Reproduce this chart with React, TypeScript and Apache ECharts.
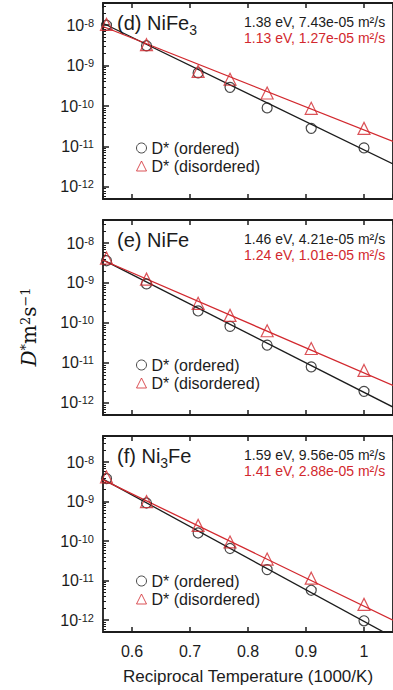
import React, { useEffect, useRef } from "react";
import * as echarts from "echarts";

// ---------- data ----------
const reciprocalT = [0.556, 0.625, 0.714, 0.769, 0.833, 0.909, 1.0];
const fitX = [0.55, 1.05];

const nife3Ordered = [1.0e-8, 3.1e-9, 6.6e-10, 2.9e-10, 9.0e-11, 2.8e-11, 9.2e-12];
const nife3Disordered = [1.05e-8, 3.3e-9, 7.2e-10, 4.6e-10, 2.1e-10, 8.8e-11, 2.8e-11];
const nife3OrderedFit = [1.12e-8, 3.7e-12];
const nife3DisorderedFit = [9.3e-9, 1.33e-11];

const nifeOrdered = [3.6e-9, 9.5e-10, 2.0e-10, 8.2e-11, 2.8e-11, 8.0e-12, 1.95e-12];
const nifeDisordered = [4.2e-9, 1.25e-9, 3.1e-10, 1.55e-10, 6.4e-11, 2.3e-11, 6.5e-12];
const nifeOrderedFit = [3.8e-9, 7.9e-13];
const nifeDisorderedFit = [3.7e-9, 2.75e-12];

const ni3feOrdered = [3.8e-9, 9.2e-10, 1.6e-10, 6.5e-11, 1.9e-11, 5.7e-12, 9.6e-13];
const ni3feDisordered = [4.2e-9, 1.0e-9, 2.5e-10, 9.5e-11, 3.5e-11, 1.15e-11, 2.5e-12];
const ni3feOrderedFit = [3.7e-9, 3.7e-13];
const ni3feDisorderedFit = [3.55e-9, 1.0e-12];

const orderedName = "D* (ordered)";
const disorderedName = "D* (disordered)";

const panelTitles = ["{t|(d) NiFe}{sub|3}", "{t|(e) NiFe}", "{t|(f) Ni}{sub|3}{t|Fe}"];
const orderedFitLabels = ["1.38 eV, 7.43e-05 m²/s", "1.46 eV, 4.21e-05 m²/s", "1.59 eV, 9.56e-05 m²/s"];
const disorderedFitLabels = ["1.13 eV, 1.27e-05 m²/s", "1.24 eV, 1.01e-05 m²/s", "1.41 eV, 2.88e-05 m²/s"];
const xAxisTitle = "Reciprocal Temperature (1000/K)";

const panels = [
  { ordered: nife3Ordered, disordered: nife3Disordered, oFit: nife3OrderedFit, dFit: nife3DisorderedFit },
  { ordered: nifeOrdered, disordered: nifeDisordered, oFit: nifeOrderedFit, dFit: nifeDisorderedFit },
  { ordered: ni3feOrdered, disordered: ni3feDisordered, oFit: ni3feOrderedFit, dFit: ni3feDisorderedFit },
];

// ---------- layout ----------
const GRID_TOPS = [3, 220, 436];
const GRID_HEIGHTS = [196, 195, 196];
const Y_MAX = [3.55e-8, 3.76e-8, 4.57e-8];
const Y_MIN = 5.0e-13;
const X_MIN = 0.55;
const X_MAX = 1.05;
const GRID_LEFT = 103;
const GRID_WIDTH = 297.5;

const FONT = "'Liberation Sans', Arial, Helvetica, sans-serif";
const SERIF = "'DejaVu Serif', 'Liberation Serif', serif";
const BLACK = "#1c1c1c";
const RED = "#d2282e";

const minorTickValues: number[] = [];
for (let e = -13; e <= -8; e++) {
  for (let m = 2; m <= 9; m++) minorTickValues.push(m * Math.pow(10, e));
}

function buildOption() {
  const grid: any[] = [];
  const xAxis: any[] = [];
  const yAxis: any[] = [];
  const series: any[] = [];
  const legend: any[] = [];
  const graphic: any[] = [];

  panels.forEach((p, i) => {
    const top = GRID_TOPS[i];
    grid.push({
      left: GRID_LEFT,
      top,
      width: GRID_WIDTH,
      height: GRID_HEIGHTS[i],
      show: true,
      borderColor: BLACK,
      borderWidth: 1.8,
      backgroundColor: "transparent",
    });
    const xBase = {
      gridIndex: i,
      type: "value",
      min: X_MIN,
      max: X_MAX,
      splitNumber: 5,
      axisLine: { show: false },
      axisTick: { show: true, inside: true, length: 5, lineStyle: { color: BLACK, width: 1.5 } },
      splitLine: { show: false },
    };
    xAxis.push({
      ...xBase,
      position: "bottom",
      axisLabel: {
        show: i === 2,
        showMinLabel: false,
        showMaxLabel: false,
        fontSize: 16,
        fontFamily: FONT,
        color: BLACK,
        margin: 11,
      },
      name: i === 2 ? xAxisTitle : "",
      nameLocation: "middle",
      nameGap: 36,
      nameTextStyle: { fontSize: 17, fontFamily: FONT, color: BLACK },
    });
    xAxis.push({ ...xBase, position: "top", axisLabel: { show: false } });

    yAxis.push({
      gridIndex: i,
      type: "log",
      logBase: 10,
      min: Y_MIN,
      max: Y_MAX[i],
      axisLine: { show: false },
      axisTick: { show: true, inside: true, length: 6, lineStyle: { color: BLACK, width: 1.5 } },
      splitLine: { show: false },
      axisLabel: {
        showMinLabel: false,
        showMaxLabel: false,
        margin: 9,
        color: BLACK,
        fontFamily: FONT,
        formatter: (v: number) => `{b|10}{s|${Math.round(Math.log10(v))}}`,
        rich: {
          b: { fontSize: 16, lineHeight: 16, verticalAlign: "bottom", padding: [3, 0, 0, 0], fontFamily: FONT, color: BLACK },
          s: { fontSize: 11, lineHeight: 11, verticalAlign: "top", fontFamily: FONT, color: BLACK },
        },
      },
    });
    yAxis.push({
      gridIndex: i,
      type: "log",
      logBase: 10,
      min: Y_MIN,
      max: Y_MAX[i],
      position: "left",
      axisLine: { show: false },
      axisLabel: { show: false },
      splitLine: { show: false },
      axisTick: {
        show: true,
        inside: true,
        length: 3,
        customValues: minorTickValues,
        lineStyle: { color: BLACK, width: 1 },
      },
    });

    const xi = i * 2;
    const yi = i * 2;
    series.push({
      type: "line",
      xAxisIndex: xi,
      yAxisIndex: yi,
      data: fitX.map((x, j) => [x, p.oFit[j]]),
      symbol: "none",
      lineStyle: { color: BLACK, width: 1.3 },
      silent: true,
      z: 2,
    });
    series.push({
      type: "line",
      xAxisIndex: xi,
      yAxisIndex: yi,
      data: fitX.map((x, j) => [x, p.dFit[j]]),
      symbol: "none",
      lineStyle: { color: RED, width: 1.3 },
      silent: true,
      z: 2,
    });
    series.push({
      name: orderedName,
      type: "scatter",
      xAxisIndex: xi,
      yAxisIndex: yi,
      data: reciprocalT.map((x, j) => [x, p.ordered[j]]),
      symbol: "circle",
      symbolSize: 10,
      itemStyle: { color: "rgba(255,255,255,0)", borderColor: BLACK, borderWidth: 1.2 },
      z: 3,
    });
    series.push({
      name: disorderedName,
      type: "scatter",
      xAxisIndex: xi,
      yAxisIndex: yi,
      data: reciprocalT.map((x, j) => [x, p.disordered[j]]),
      symbol: "triangle",
      symbolSize: 12,
      itemStyle: { color: "rgba(255,255,255,0)", borderColor: RED, borderWidth: 1.2 },
      z: 3,
    });

    legend.push({
      orient: "vertical",
      left: 136,
      top: top + 137,
      padding: 0,
      itemWidth: 10,
      itemHeight: 10,
      itemGap: 2,
      selectedMode: false,
      data: [orderedName, disorderedName],
      itemStyle: { borderWidth: 1 },
      textStyle: { fontSize: 16, fontFamily: FONT, color: BLACK },
    });

    graphic.push({
      type: "text",
      left: 117,
      top: top + 10,
      style: {
        text: panelTitles[i],
        fill: BLACK,
        rich: {
          t: { fontSize: 20, fontFamily: FONT, fill: BLACK, verticalAlign: "top", lineHeight: 20 },
          sub: { fontSize: 14, fontFamily: FONT, fill: BLACK, verticalAlign: "top", lineHeight: 14, padding: [10, 0, 0, 0] },
        },
      },
    });
    graphic.push({
      type: "text",
      x: 244,
      y: top + 19,
      style: {
        text: orderedFitLabels[i],
        fill: BLACK,
        font: `14px ${FONT}`,
        align: "left",
        verticalAlign: "middle",
      },
    });
    graphic.push({
      type: "text",
      x: 244,
      y: top + 35,
      style: {
        text: disorderedFitLabels[i],
        fill: RED,
        font: `14px ${FONT}`,
        align: "left",
        verticalAlign: "middle",
      },
    });
  });

  graphic.push({
    type: "text",
    x: 29,
    y: 327,
    rotation: Math.PI / 2,
    style: {
      text: "{d|D}{sp|*}{n|m}{sp|2}{n|s}{sp|−1}",
      align: "center",
      verticalAlign: "middle",
      rich: {
        d: { fontSize: 20, fontStyle: "italic", fontFamily: SERIF, fill: "#111", verticalAlign: "bottom", lineHeight: 20, padding: [5, 0, 0, 0] },
        n: { fontSize: 20, fontFamily: SERIF, fill: "#111", verticalAlign: "bottom", lineHeight: 20, padding: [5, 0, 0, 0] },
        sp: { fontSize: 13, fontFamily: SERIF, fill: "#111", verticalAlign: "top", lineHeight: 13 },
      },
    },
  });

  return {
    animation: false,
    backgroundColor: "#ffffff",
    grid,
    xAxis,
    yAxis,
    series,
    legend,
    graphic,
  };
}

export default function App() {
  const ref = useRef<HTMLDivElement>(null);
  useEffect(() => {
    if (!ref.current) return;
    const chart = echarts.init(ref.current, undefined, { renderer: "svg" });
    chart.setOption(buildOption() as any);
    return () => chart.dispose();
  }, []);
  return (
    <div
      ref={ref}
      style={{ position: "fixed", left: 0, top: 0, width: 393, height: 690, background: "#fff" }}
    />
  );
}
